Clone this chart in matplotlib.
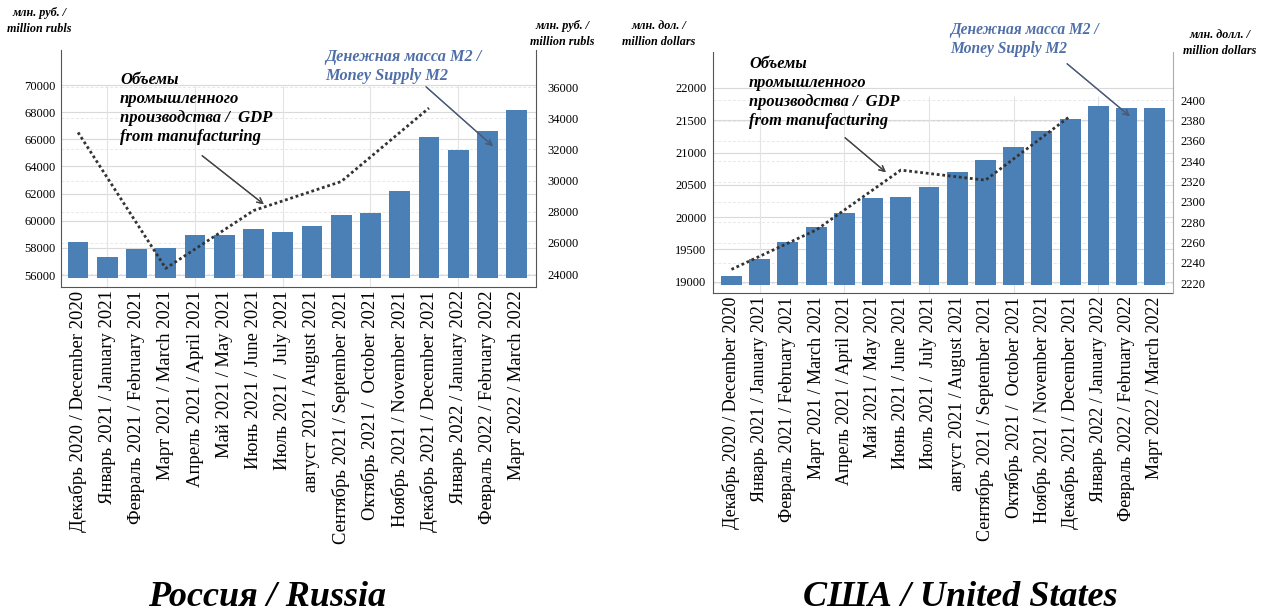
import numpy as np
import matplotlib.pyplot as plt

plt.rcParams['font.family'] = ['Liberation Serif', 'DejaVu Serif']

months = ['Декабрь 2020 / December 2020', 'Январь 2021 / January 2021',
          'Февраль 2021 / February 2021', 'Март 2021 / March 2021',
          'Апрель 2021 / April 2021', 'Май 2021 / May 2021',
          'Июнь 2021 / June 2021', 'Июль 2021 /  July 2021',
          'август 2021 / August 2021', 'Сентябрь 2021 / September 2021',
          'Октябрь 2021 /  October 2021', 'Ноябрь 2021 / November 2021',
          'Декабрь 2021 / December 2021', 'Январь 2022 / January 2022',
          'Февраль 2022 / February 2022', 'Март 2022 / March 2022']

# money supply M2 (bars, left axis)
ru_m2 = [58400, 57300, 57900, 57970, 58950, 58950, 59370, 59150,
         59610, 60400, 60600, 62170, 66170, 65190, 66590, 68160]
us_m2 = [19093, 19345, 19619, 19850, 20067, 20294, 20309, 20459,
         20706, 20892, 21088, 21330, 21521, 21716, 21691, 21691]

# GDP from manufacturing (quarterly, right axis)
gdp_idx = [0, 3, 6, 9, 12]
ru_gdp = [33085, 24364, 28070, 29935, 34650]
us_gdp = [2233.7, 2272.4, 2331.3, 2321.4, 2384.3]

W, H = 1261, 615
BAR = '#4a80b5'
BLUE_TXT = '#4f6fa8'

fig = plt.figure(figsize=(W / 100, H / 100), dpi=100)


def px(x, y):
    # pixel position from top-left -> figure fraction
    return x / W, 1 - y / H


def make_panel(rect, m2, gdp, ylim, y2lim, base, yticks, y2ticks,
               xlim, width, grid_top, rspine, xfs, lpad, rpad):
    ax = fig.add_axes(rect)
    x = np.arange(len(m2))
    ax.bar(x, np.array(m2) - base, bottom=base, width=width, color=BAR, zorder=3)
    ax.set_xlim(*xlim)
    ax.set_ylim(*ylim)
    ax.set_yticks(yticks)
    ax.set_xticks(x)
    ax.set_xticklabels(months, rotation=90, fontsize=xfs)
    ax.tick_params(axis='x', length=0, pad=2.5)
    ax.tick_params(axis='y', length=0, pad=lpad, labelsize=9)
    for t in yticks:
        ax.axhline(t, color='#d9d9d9', lw=0.8, zorder=1)
    # secondary grid drawn on the primary axes so it stays behind the bars
    for t in y2ticks:
        v = ylim[0] + (t - y2lim[0]) / (y2lim[1] - y2lim[0]) * (ylim[1] - ylim[0])
        ax.axhline(v, color='#e8e8e8', lw=0.7, ls=(0, (3, 2)), zorder=1)
    ax.vlines(x[1::3], ylim[0], grid_top, color='#e3e3e3', lw=0.8, zorder=1)
    ax.spines['top'].set_visible(False)
    ax.spines['left'].set_color('#555555')
    ax.spines['bottom'].set_color('#555555')
    ax.spines['right'].set_visible(False)

    ax2 = ax.twinx()
    ax2.set_ylim(*y2lim)
    ax2.set_yticks(y2ticks)
    ax2.tick_params(axis='y', length=0, pad=rpad, labelsize=9)
    ax2.plot(gdp_idx, gdp, color='#333333', lw=2, ls=(0, (1, 1)), zorder=4)
    ax2.spines['top'].set_visible(False)
    ax2.spines['left'].set_visible(False)
    ax2.spines['bottom'].set_visible(False)
    ax2.spines['right'].set_color(rspine)
    return ax, ax2


# Russia
x0, y1 = px(60.8, 287)
x1, y0 = px(536, 50)
make_panel([x0, y1, x1 - x0, y0 - y1], ru_m2, ru_gdp,
           (55116, 72580), (23166, 38375), 55757,
           np.arange(56000, 70001, 2000), np.arange(24000, 36001, 2000),
           (-0.59, 15.66), 0.71, 70000, '#555555', 13.4, 3.5, 8)

# USA
x0, y1 = px(713.4, 293)
x1, y0 = px(1172.5, 52)
make_panel([x0, y1, x1 - x0, y0 - y1], us_m2, us_gdp,
           (18825, 22557), (2210.5, 2447.4), 18949,
           np.arange(19000, 22001, 500), np.arange(2220, 2401, 20),
           (-0.64, 15.63), 0.74, 21872, '#aaa6c8', 13, 5, 6)

unit_kw = dict(fontsize=8.7, fontweight='bold', style='italic',
               ha='center', va='center', linespacing=1.35)
fig.text(*px(39.5, 21), 'млн. руб. /\nmillion rubls', **unit_kw)
fig.text(*px(562, 34), 'млн. руб. /\nmillion rubls', **unit_kw)
fig.text(*px(658.5, 34), 'млн. дол. /\nmillion dollars', **unit_kw)
fig.text(*px(1220, 43), 'млн. долл. /\nmillion dollars', **unit_kw)

gdp_txt = 'Объемы\nпромышленного\nпроизводства /  GDP\nfrom manufacturing'
m2_txt = 'Денежная масса М2 /\nMoney Supply M2'

fig.text(*px(120, 72), gdp_txt, fontsize=12, fontweight='bold',
         style='italic', ha='left', va='top', linespacing=1.25)
fig.text(*px(325, 49), m2_txt, fontsize=11.7, fontweight='bold', style='italic',
         color=BLUE_TXT, ha='left', va='top', linespacing=1.25)
fig.text(*px(749, 56), gdp_txt, fontsize=11.8, fontweight='bold',
         style='italic', ha='left', va='top', linespacing=1.25)
fig.text(*px(950, 22), m2_txt, fontsize=11.2, fontweight='bold', style='italic',
         color=BLUE_TXT, ha='left', va='top', linespacing=1.25)

arrows = [((200, 154), (266, 206), '#444444'),
          ((424, 85), (495, 148), '#4a5a78'),
          ((843, 136), (888, 174), '#444444'),
          ((1065, 62), (1132, 118), '#4a5a78')]
for start, end, col in arrows:
    fig.add_artist(plt.annotate('', xy=px(*end), xytext=px(*start),
                                xycoords='figure fraction',
                                textcoords='figure fraction',
                                arrowprops=dict(arrowstyle='->', color=col,
                                                lw=0.9)))

title_kw = dict(fontsize=26, fontweight='bold', style='italic',
                ha='center', va='center')
fig.text(*px(267, 597), 'Россия / Russia', **title_kw)
fig.text(*px(960, 597), 'США / United States', **title_kw)

fig.savefig('out.png', dpi=100)
